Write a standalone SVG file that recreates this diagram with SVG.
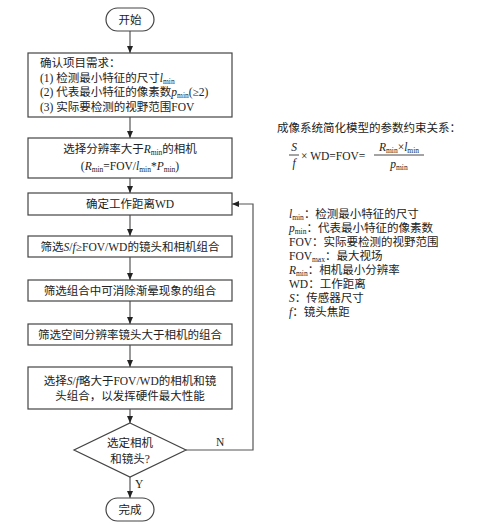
<svg xmlns="http://www.w3.org/2000/svg" width="493" height="524" viewBox="0 0 493 524">
<defs>
<marker id="ah" markerWidth="8" markerHeight="8" refX="7" refY="4" orient="auto" markerUnits="userSpaceOnUse">
<path d="M0,1 L7,4 L0,7 Z" fill="#222"/>
</marker>
<style>
.box{fill:#fff;stroke:#444;stroke-width:1.2}
.ln{fill:none;stroke:#555;stroke-width:1.2}
.t{font-family:"Liberation Serif","Noto Sans CJK SC",serif;font-size:11.5px;fill:#222}
.c{text-anchor:middle}
.i{font-style:italic}
.s{font-size:7.5px}
</style>
</defs>
<rect width="493" height="524" fill="#fff"/>

<g id="connectors">
<line class="ln" x1="130" y1="31" x2="130" y2="53" marker-end="url(#ah)"/>
<line class="ln" x1="130" y1="117" x2="130" y2="138" marker-end="url(#ah)"/>
<line class="ln" x1="130" y1="178" x2="130" y2="193" marker-end="url(#ah)"/>
<line class="ln" x1="130" y1="215" x2="130" y2="236" marker-end="url(#ah)"/>
<line class="ln" x1="130" y1="257" x2="130" y2="280" marker-end="url(#ah)"/>
<line class="ln" x1="130" y1="301" x2="130" y2="324" marker-end="url(#ah)"/>
<line class="ln" x1="130" y1="345" x2="130" y2="367" marker-end="url(#ah)"/>
<line class="ln" x1="130" y1="409" x2="130" y2="423" marker-end="url(#ah)"/>
<line class="ln" x1="130" y1="477" x2="130" y2="498" marker-end="url(#ah)"/>
<polyline class="ln" points="186,450 253,450 253,204 232,204" marker-end="url(#ah)"/>
<text class="t" x="216" y="446">N</text>
<text class="t" x="135" y="488">Y</text>
</g>

<g id="start">
<rect class="box" x="106" y="8" width="48" height="23" rx="11.5"/>
<text class="t c" x="130" y="24">开始</text>
</g>

<g id="n1">
<rect class="box" x="28" y="53" width="204" height="64"/>
<text class="t" x="40" y="67">确认项目需求：</text>
<text class="t" x="40" y="82">(1) 检测最小特征的尺寸<tspan class="i">l</tspan><tspan class="s" dy="2">min</tspan></text>
<text class="t" x="40" y="96">(2) 代表最小特征的像素数<tspan class="i">p</tspan><tspan class="s" dy="2">min</tspan><tspan dy="-2">(≥2)</tspan></text>
<text class="t" x="40" y="111">(3) 实际要检测的视野范围FOV</text>
</g>

<g id="n2">
<rect class="box" x="28" y="138" width="204" height="40"/>
<text class="t c" x="130" y="153">选择分辨率大于<tspan class="i">R</tspan><tspan class="s" dy="2">min</tspan><tspan dy="-2">的相机</tspan></text>
<text class="t c" x="130" y="170">(<tspan class="i">R</tspan><tspan class="s" dy="2">min</tspan><tspan dy="-2">=FOV/</tspan><tspan class="i">l</tspan><tspan class="s" dy="2">min</tspan><tspan dy="-2">*</tspan><tspan class="i">P</tspan><tspan class="s" dy="2">min</tspan><tspan dy="-2">)</tspan></text>
</g>

<g id="n3">
<rect class="box" x="28" y="193" width="204" height="22"/>
<text class="t c" x="130" y="208">确定工作距离WD</text>
</g>

<g id="n4">
<rect class="box" x="28" y="236" width="204" height="21"/>
<text class="t c" x="130" y="251">筛选<tspan class="i">S</tspan>/<tspan class="i">f</tspan>≥FOV/WD的镜头和相机组合</text>
</g>

<g id="n5">
<rect class="box" x="28" y="280" width="204" height="21"/>
<text class="t c" x="130" y="295">筛选组合中可消除渐晕现象的组合</text>
</g>

<g id="n6">
<rect class="box" x="28" y="324" width="204" height="21"/>
<text class="t c" x="130" y="339">筛选空间分辨率镜头大于相机的组合</text>
</g>

<g id="n7">
<rect class="box" x="28" y="367" width="204" height="42"/>
<text class="t c" x="130" y="385">选择<tspan class="i">S</tspan>/<tspan class="i">f</tspan>略大于FOV/WD的相机和镜</text>
<text class="t c" x="130" y="400">头组合，以发挥硬件最大性能</text>
</g>

<g id="decision">
<polygon class="box" points="130,423 186,450 130,477 74,450"/>
<text class="t c" x="130" y="447">选定相机</text>
<text class="t c" x="130" y="463">和镜头?</text>
</g>

<g id="end">
<rect class="box" x="106" y="498" width="48" height="23" rx="11.5"/>
<text class="t c" x="130" y="514">完成</text>
</g>

<g id="formula">
<text class="t" x="277" y="132">成像系统简化模型的参数约束关系：</text>
<text class="t i c" x="294" y="151">S</text>
<line x1="289" y1="155" x2="299" y2="155" stroke="#333" stroke-width="0.9"/>
<text class="t i c" x="294" y="167">f</text>
<text class="t" x="301" y="160">× WD=FOV=</text>
<text class="t c" x="399" y="151"><tspan class="i">R</tspan><tspan class="s" dy="2">min</tspan><tspan dy="-2">×</tspan><tspan class="i">l</tspan><tspan class="s" dy="2">min</tspan></text>
<line x1="374" y1="155" x2="424" y2="155" stroke="#333" stroke-width="0.9"/>
<text class="t c" x="399" y="168"><tspan class="i">p</tspan><tspan class="s" dy="2">min</tspan></text>
</g>

<g id="legend">
<text class="t" x="289" y="218"><tspan class="i">l</tspan><tspan class="s" dy="2">min</tspan><tspan dy="-2">：检测最小特征的尺寸</tspan></text>
<text class="t" x="289" y="232"><tspan class="i">p</tspan><tspan class="s" dy="2">min</tspan><tspan dy="-2">：代表最小特征的像素数</tspan></text>
<text class="t" x="289" y="246">FOV：实际要检测的视野范围</text>
<text class="t" x="289" y="260">FOV<tspan class="s" dy="2">max</tspan><tspan dy="-2">：最大视场</tspan></text>
<text class="t" x="289" y="274"><tspan class="i">R</tspan><tspan class="s" dy="2">min</tspan><tspan dy="-2">：相机最小分辨率</tspan></text>
<text class="t" x="289" y="288">WD：工作距离</text>
<text class="t" x="289" y="302"><tspan class="i">S</tspan>：传感器尺寸</text>
<text class="t" x="289" y="316"><tspan class="i">f</tspan>：镜头焦距</text>
</g>
</svg>
